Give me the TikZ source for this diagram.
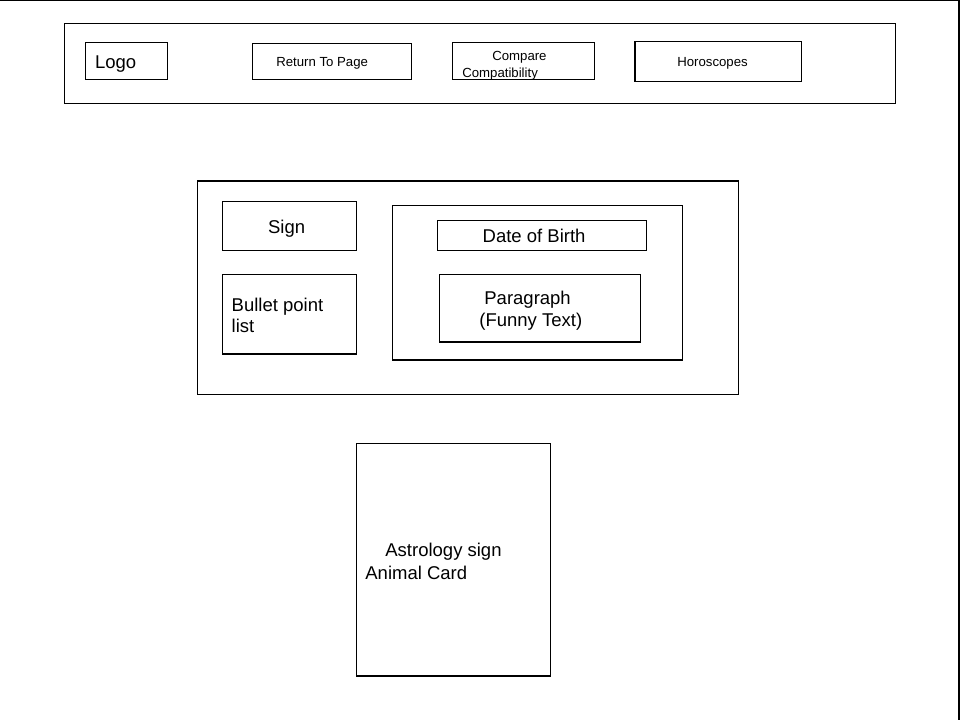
\documentclass[tikz,border=0pt]{standalone}
\usepackage{fontspec}
\setmainfont{Liberation Sans}
\begin{document}
\begin{tikzpicture}[x=1pt,y=-1pt,
  wbox/.style={draw=black,line width=1.1pt,rectangle,inner sep=0pt,outer sep=0pt},
  bigtxt/.style={anchor=base west,inner sep=0pt,xshift=-0.8pt,font=\fontsize{18.5}{21}\selectfont},
  smalltxt/.style={anchor=base west,inner sep=0pt,xshift=-0.6pt,font=\fontsize{13.2}{15}\selectfont}]
\useasboundingbox[fill=white] (0,0) rectangle (960,720);
% page border
\coordinate (tl) at (0,0.7);
\coordinate (tr) at (959,0.7);
\coordinate (br) at (959,720);
\draw[line width=1.3pt] (tl) -- (tr) -- (br);
% navigation bar
\node[wbox,minimum width=831.4pt,minimum height=80pt] (nav) at (480,63.3) {};
\node[wbox,minimum width=82pt,minimum height=37pt] (logo) at (126.3,60.8) {};
\node[wbox,minimum width=159.4pt,minimum height=36pt] (ret) at (332,61.3) {};
\node[wbox,minimum width=142pt,minimum height=37pt] (comp) at (523.3,60.8) {};
\node[wbox,minimum width=166.7pt,minimum height=40pt] (horo) at (718.35,61.3) {};
\node[bigtxt] (logot) at (95.7,68.3) {Logo};
\node[smalltxt] (rett) at (276.7,66.8) {Return To Page};
\node[smalltxt] (compt1) at (492.7,60.2) {Compare};
\node[smalltxt] (compt2) at (462.7,77.3) {Compatibility};
\node[smalltxt] (horot) at (677.7,66.5) {Horoscopes};
% middle section
\node[wbox,minimum width=541pt,minimum height=213.3pt] (mid) at (467.8,287.65) {};
\node[wbox,minimum width=134pt,minimum height=49pt] (sign) at (289.3,225.8) {};
\node[wbox,minimum width=134pt,minimum height=79.7pt] (bullet) at (289.3,314.15) {};
\node[wbox,minimum width=290pt,minimum height=154.7pt] (inner) at (537.3,282.65) {};
\node[wbox,minimum width=209.4pt,minimum height=30pt] (dob) at (542,235.3) {};
\node[wbox,minimum width=201pt,minimum height=67.7pt] (para) at (539.8,308.15) {};
\node[bigtxt] (signt) at (268.7,233.5) {Sign};
\node[bigtxt] (dobt) at (483.3,242.6) {Date of Birth};
\node[bigtxt] (bullt1) at (232.3,311.3) {Bullet point};
\node[bigtxt] (bullt2) at (232.3,332.7) {list};
\node[bigtxt] (parat1) at (485,304.3) {Paragraph};
\node[bigtxt] (parat2) at (480,326.5) {(Funny Text)};
% card
\node[wbox,minimum width=194pt,minimum height=232.7pt] (card) at (453.3,559.65) {};
\node[bigtxt] (cardt1) at (386,556.5) {Astrology sign};
\node[bigtxt] (cardt2) at (366,579.5) {Animal Card};
\end{tikzpicture}
\end{document}
